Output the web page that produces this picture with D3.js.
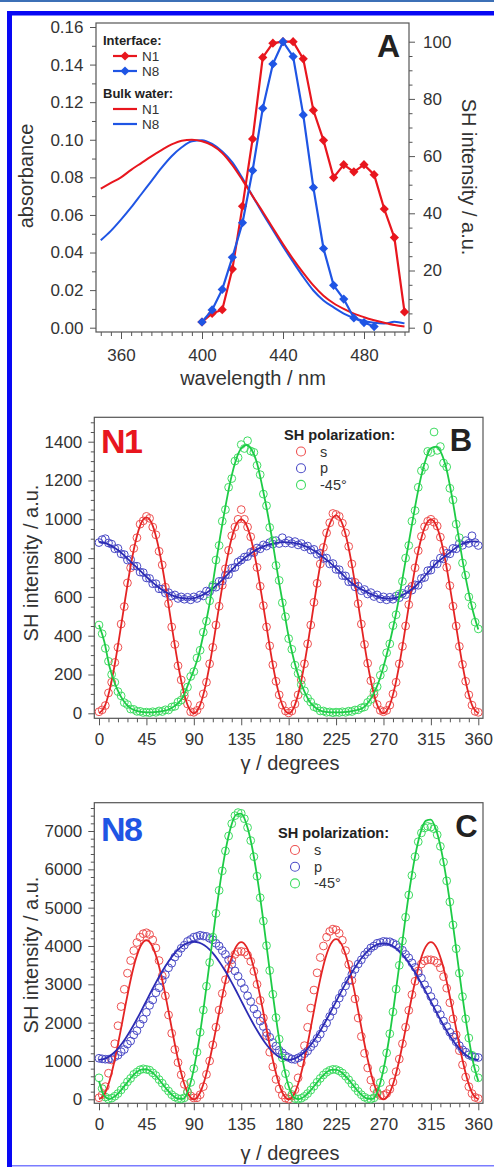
<!DOCTYPE html>
<html>
<head>
<meta charset="utf-8">
<script src="https://cdn.jsdelivr.net/npm/d3@7"></script>
<style>
  body { margin: 0; background: #fff; }
  svg { display: block; }
</style>
</head>
<body>
<svg id="fig" width="494" height="1167"></svg>
<script>
// -------------------------------------------------------------------------- //
//                                   DATA                                     //
// -------------------------------------------------------------------------- //

// panel A : bulk absorbance (left axis) and interface SH spectra (right axis)
var wlBulk = [350,355,360,365,370,375,380,385,390,395,400,405,410,415,420,425,
              430,435,440,445,450,455,460,465,470,475,480,485,490,495,500];
var absN1 = [0.0740,0.0770,0.0800,0.0840,0.0876,0.0912,0.0945,0.0975,0.0995,0.1000,
             0.0992,0.0970,0.0930,0.0865,0.0785,0.0700,0.0617,0.0530,0.0445,0.0365,
             0.0292,0.0225,0.0170,0.0130,0.0100,0.0075,0.0056,0.0040,0.0026,0.0014,0.0006];
var absN8 = [0.0465,0.0515,0.0575,0.0640,0.0710,0.0780,0.0850,0.0912,0.0960,0.0992,
             0.0998,0.0978,0.0938,0.0880,0.0795,0.0700,0.0608,0.0520,0.0432,0.0350,
             0.0270,0.0198,0.0145,0.0108,0.0075,0.0052,0.0036,0.0026,0.0022,0.0032,0.0023];
var wlSH = [400,405,410,415,420,425,430,435,440,445,450,455,460,465,470,475,480,485,490,495,500];
var shN1 = [2.0,5.0,6.3,20.5,42.5,66.0,94.5,99.5,100,100,94.0,76.0,65.5,52.5,57.0,54.5,57.0,53.5,41.5,31.5,5.5];
var shN8 = [2.0,6.2,13.4,24.6,36.7,55.0,76.7,92.2,100,94.8,74.4,49.0,27.7,14.8,10.0,3.4,1.8,0.4];
var wlTicks  = [360, 400, 440, 480];
var absTicks = [0, 0.02, 0.04, 0.06, 0.08, 0.10, 0.12, 0.14, 0.16];
var shTicks  = [0, 20, 40, 60, 80, 100];

// panels B and C : polarization scans
var gammaFit = [0,5,10,15,20,25,30,35,40,
                45,50,55,60,65,70,75,80,85,
                90,95,100,105,110,115,120,125,130,
                135,140,145,150,155,160,165,170,175,
                180,185,190,195,200,205,210,215,220,
                225,230,235,240,245,250,255,260,265,
                270,275,280,285,290,295,300,305,310,
                315,320,325,330,335,340,345,350,355,
                360];
var gammaPts = [0,3,6,9,12,15,18,21,24,27,30,33,36,39,42,
                45,48,51,54,57,60,63,66,69,72,75,78,81,84,87,
                90,93,96,99,102,105,108,111,114,117,120,123,126,129,132,
                135,138,141,144,147,150,153,156,159,162,165,168,171,174,177,
                180,183,186,189,192,195,198,201,204,207,210,213,216,219,222,
                225,228,231,234,237,240,243,246,249,252,255,258,261,264,267,
                270,273,276,279,282,285,288,291,294,297,300,303,306,309,312,
                315,318,321,324,327,330,333,336,339,342,345,348,351,354,357,
                360];
var gammaTicks = [0, 45, 90, 135, 180, 225, 270, 315, 360];
var polLabels  = ["s", "p", "-45\u00b0"];

// N1
var n1FitS = [0,30,118,253,417,593,758,892,980,
              1010,980,892,758,593,417,253,118,30,
              0,30,117,250,413,587,750,883,970,
              1000,970,883,750,587,413,250,117,30,
              0,31,119,255,421,599,765,901,989,
              1020,989,901,765,599,421,255,119,31,
              0,30,117,250,413,587,750,883,970,
              1000,970,883,750,587,413,250,117,30,
              0];
var n1FitP = [885,878,868,852,833,808,782,756,730,
              704,679,656,636,620,607,598,593,591,
              593,602,615,632,653,677,704,733,761,
              786,808,828,845,858,868,875,880,882,
              881,878,873,863,851,835,816,795,773,
              748,722,695,670,651,636,622,610,600,
              593,591,593,601,615,632,653,681,713,
              743,773,795,816,838,859,874,883,886,
              885];
var n1FitM = [455,370,240,155,94,52,26,14,7,
              5,5,7,11,17,31,52,86,155,
              223,309,430,567,739,911,1065,1203,1306,
              1366,1383,1357,1289,1168,1031,876,704,550,
              395,275,180,112,60,31,14,7,5,
              5,5,7,11,17,26,52,94,155,
              240,344,464,601,756,911,1065,1203,1306,
              1366,1375,1340,1254,1117,955,790,645,525,
              432];
var n1PtsS = [8,18,40,105,160,262,340,460,550,672,750,850,905,975,992,
              1015,1005,960,920,835,765,650,565,445,355,245,172,90,48,8,
              5,15,40,100,160,255,340,455,552,660,745,840,915,960,1000,
              1050,1000,960,910,838,752,655,555,445,348,250,165,95,42,12,
              2,12,48,95,172,255,358,455,572,670,770,855,930,982,1030,
              1025,1015,980,930,860,770,675,565,460,355,258,168,98,45,15,
              8,15,42,100,160,255,345,450,560,655,750,838,912,962,990,
              1000,985,965,908,840,752,658,552,450,345,252,165,95,42,10,
              5];
var n1PtsP = [880,895,900,878,872,848,850,822,818,790,792,760,758,728,725,
              698,695,668,668,642,640,620,622,605,610,592,600,588,598,585,
              600,592,610,605,630,628,652,650,680,682,712,715,748,752,780,
              790,805,808,830,828,852,848,868,862,880,872,890,875,905,878,
              890,875,885,868,875,858,862,842,845,820,825,798,800,770,772,
              742,740,710,708,678,678,652,655,632,638,615,622,602,610,590,
              600,585,598,588,604,596,618,612,638,635,662,660,695,700,735,
              738,770,770,800,796,825,822,850,848,875,866,890,876,915,880,
              865];
var n1PtsM = [455,410,335,268,200,160,112,90,55,45,22,20,10,10,4,
              6,3,8,5,12,9,18,17,32,36,58,68,108,135,190,
              215,285,325,418,475,580,660,790,865,990,1050,1165,1210,1300,1318,
              1385,1365,1405,1352,1345,1278,1230,1130,1070,958,890,762,685,570,498,
              385,330,248,205,148,116,78,58,34,27,12,12,5,7,3,
              6,4,8,5,11,9,17,18,28,33,56,72,112,137,196,
              232,312,358,452,508,615,680,800,865,990,1045,1165,1250,1270,1350,
              1345,1450,1355,1375,1290,1270,1160,1100,975,905,775,712,600,555,470,
              435];
var n1Ticks = [0, 200, 400, 600, 800, 1000, 1200, 1400];

// N8
var n8FitS = [0,125,486,1038,1714,2436,3113,3664,4026,
              4150,4026,3664,3113,2436,1714,1038,486,125,
              0,124,480,1025,1693,2407,3075,3620,3977,
              4100,3977,3620,3075,2407,1693,1025,480,124,
              0,126,489,1045,1726,2454,3135,3691,4055,
              4180,4055,3691,3135,2454,1726,1045,489,126,
              0,124,480,1025,1693,2407,3075,3620,3977,
              4100,3977,3620,3075,2407,1693,1025,480,124,
              0];
var n8FitP = [1030,1053,1123,1236,1390,1580,1800,2043,2302,
              2570,2838,3097,3340,3559,3750,3904,4018,4087,
              4110,4087,4018,3904,3750,3559,3340,3097,2838,
              2570,2302,2043,1800,1580,1390,1236,1123,1053,
              1030,1053,1122,1234,1386,1573,1790,2030,2286,
              2550,2814,3070,3310,3526,3714,3866,3979,4047,
              4070,4047,3979,3866,3714,3526,3310,3070,2814,
              2550,2286,2030,1790,1573,1386,1234,1122,1053,
              1030];
var n8FitM = [480,90,6,75,208,378,550,692,776,
              784,715,582,412,239,98,14,14,258,
              793,1562,2522,3574,4645,5642,6475,7090,7425,
              7455,7178,6623,5822,4856,3792,2735,1748,925,
              345,38,6,74,206,373,543,684,766,
              774,706,574,407,236,96,14,14,253,
              776,1528,2468,3497,4546,5521,6336,6939,7266,
              7296,7024,6481,5697,4752,3711,2676,1750,980,
              480];
var n8PtsS = [40,120,330,680,1026,1450,1920,2420,2870,3290,3620,3880,4090,4230,4320,
              4345,4300,4160,3950,3620,3220,2700,2200,1722,1300,960,640,390,200,90,
              35,40,120,330,650,1000,1420,1880,2330,2760,3120,3420,3640,3780,3850,
              3860,3840,3760,3600,3340,3000,2580,2120,1660,1230,850,520,270,110,30,
              5,80,250,560,950,1400,1880,2380,2850,3300,3700,4000,4230,4380,4440,
              4420,4330,4150,3880,3520,3100,2620,2120,1640,1200,820,500,280,150,100,
              110,150,260,450,720,1050,1450,1880,2320,2730,3080,3350,3530,3610,3640,
              3640,3620,3560,3430,3200,2900,2520,2100,1680,1270,900,580,330,150,50,
              20];
var n8PtsP = [1070,1055,1045,1044,1065,1110,1150,1240,1300,1440,1520,1680,1790,1960,2090,
              2270,2450,2590,2780,2910,3110,3250,3430,3550,3710,3810,3940,4020,4120,4170,
              4230,4250,4280,4260,4250,4200,4160,4070,4000,3880,3780,3640,3520,3350,3210,
              3040,2890,2700,2550,2360,2220,2040,1900,1740,1620,1480,1390,1280,1210,1130,
              1090,1050,1040,1080,1120,1190,1260,1370,1460,1590,1700,1860,1990,2160,2300,
              2470,2640,2780,2960,3100,3260,3390,3530,3640,3770,3850,3950,4000,4070,4090,
              4120,4110,4110,4070,4030,3960,3890,3780,3690,3560,3440,3290,3160,2990,2850,
              2680,2530,2350,2210,2040,1900,1750,1630,1500,1400,1290,1230,1160,1120,1100,
              1090];
var n8PtsM = [560,280,60,8,30,80,150,245,340,455,545,650,710,770,795,
              780,760,690,620,515,420,305,215,120,60,18,10,40,190,440,
              800,1230,1750,2330,2950,3570,4230,4850,5450,5960,6480,6870,7190,7400,7480,
              7460,7320,7090,6750,6330,5820,5260,4650,4010,3360,2740,2130,1570,1080,670,
              350,125,20,5,28,75,150,240,340,445,545,635,705,755,780,
              775,740,685,605,510,405,305,205,120,55,15,5,40,185,435,
              775,1210,1710,2280,2875,3495,4130,4750,5330,5840,6330,6720,6950,7080,7120,
              7100,7060,6900,6600,6190,5700,5150,4550,3930,3290,2680,2100,1600,1150,800,
              560];
var n8Ticks = [0, 1000, 2000, 3000, 4000, 5000, 6000, 7000];

// -------------------------------------------------------------------------- //
//                                 DRAWING                                    //
// -------------------------------------------------------------------------- //

var FONT = "'Liberation Sans', Arial, Helvetica, sans-serif";
var RED = "#e8161e", BLUE = "#1f55e4";
var polCirc = ["#ee5050", "#4a4ac6", "#3fdc62"];
var polLine = ["#e42424", "#2c2cb4", "#1ecb46"];

var svg = d3.select("#fig").attr("font-family", FONT);

// page frame
svg.append("rect").attr("x", 0).attr("y", 0).attr("width", 494).attr("height", 2).attr("fill", "#3c70b6");
svg.append("rect").attr("x", 7).attr("y", 11).attr("width", 487).attr("height", 4.5).attr("fill", "#0808f4");
svg.append("rect").attr("x", 7).attr("y", 11).attr("width", 5).attr("height", 1156).attr("fill", "#0808f4");
svg.append("rect").attr("x", 12).attr("y", 1165).attr("width", 482).attr("height", 1.5).attr("fill", "#7a7cff");

// one set of ticks (major with labels or minor without)
function ticks(axisFn, scale, vals, size, pad, fmt, tx, ty) {
    var a = axisFn(scale).tickValues(vals).tickSize(size).tickPadding(pad)
        .tickFormat(fmt || function () { return ""; });
    var g = svg.append("g")
        .attr("transform", "translate(" + tx + "," + ty + ")")
        .call(a)
        .attr("font-family", FONT)
        .attr("font-size", 17);
    g.select(".domain").remove();
    g.selectAll("line").attr("stroke", "#555").attr("stroke-width", 1);
    g.selectAll("text").attr("fill", "#333");
    return g;
}

function box(x0, y0, x1, y1) {
    svg.append("rect")
        .attr("x", x0).attr("y", y0)
        .attr("width", x1 - x0).attr("height", y1 - y0)
        .attr("fill", "none").attr("stroke", "#555").attr("stroke-width", 1.2);
}

function label(txt, x, y, size, opts) {
    opts = opts || {};
    var t = svg.append("text")
        .text(txt)
        .attr("x", x).attr("y", y)
        .attr("font-size", size)
        .attr("fill", opts.fill || "#333")
        .attr("font-weight", opts.bold ? "bold" : "normal")
        .attr("text-anchor", opts.anchor || "start");
    if (opts.spacing) t.attr("letter-spacing", opts.spacing);
    if (opts.rotate) t.attr("transform", "rotate(" + opts.rotate + "," + x + "," + y + ")");
    return t;
}

function diamond(r) {
    return "M0," + (-r) + "L" + r + ",0L0," + r + "L" + (-r) + ",0Z";
}

// ------------------------------ PANEL A ---------------------------------- //

var xA  = d3.scaleLinear().domain([360, 480]).range([121, 364]);
var yA  = d3.scaleLinear().domain([0, 0.16]).range([327.7, 27]);
var yA2 = d3.scaleLinear().domain([0, 100]).range([327.7, 41.7]);

box(96, 23, 409, 332);

ticks(d3.axisLeft, yA, absTicks, 6, 6.5, d3.format(".2f"), 96, 0);
ticks(d3.axisLeft, yA, d3.range(0.01, 0.16, 0.02), 4, 3, null, 96, 0);
ticks(d3.axisRight, yA2, shTicks, 6, 8, d3.format("d"), 409, 0);
ticks(d3.axisRight, yA2, d3.range(0, 101, 5).filter(function (v) { return v % 20; }), 3.5, 3, null, 409, 0);
ticks(d3.axisBottom, xA, wlTicks, 7, 10, d3.format("d"), 0, 332);
ticks(d3.axisBottom, xA, d3.range(350, 501, 5).filter(function (v) { return wlTicks.indexOf(v) < 0; }), 4, 3, null, 0, 332);

var bulkLine = function (vals) {
    return d3.line()
        .x(function (d, i) { return xA(wlBulk[i]); })
        .y(function (d) { return yA(d); })
        .curve(d3.curveMonotoneX)(vals);
};
svg.append("path").attr("d", bulkLine(absN8)).attr("fill", "none").attr("stroke", BLUE).attr("stroke-width", 2);
svg.append("path").attr("d", bulkLine(absN1)).attr("fill", "none").attr("stroke", RED).attr("stroke-width", 2);

function shTrace(vals, col) {
    var line = d3.line()
        .x(function (d, i) { return xA(wlSH[i]); })
        .y(function (d) { return yA2(d); });
    svg.append("path").attr("d", line(vals)).attr("fill", "none").attr("stroke", col).attr("stroke-width", 2.2);
    svg.append("g").selectAll("path")
        .data(vals)
        .enter().append("path")
        .attr("d", diamond(4.6))
        .attr("transform", function (d, i) { return "translate(" + xA(wlSH[i]) + "," + yA2(d) + ")"; })
        .attr("fill", col);
}
shTrace(shN1, RED);
shTrace(shN8, BLUE);

label("absorbance", 33, 176, 20, { anchor: "middle", rotate: -90 });
label("SH intensity / a.u.", 462, 177, 20, { anchor: "middle", rotate: 90 });
label("wavelength / nm", 253, 385, 20, { anchor: "middle" });
label("A", 388.5, 57, 32, { anchor: "middle", bold: true, fill: "#222" });

// legend A
label("Interface:", 103, 45, 13, { bold: true, fill: "#222" });
label("Bulk water:", 103, 98, 13, { bold: true, fill: "#222" });
[[56, RED, "N1", true], [71, BLUE, "N8", true], [109, RED, "N1", false], [124, BLUE, "N8", false]]
    .forEach(function (r) {
        svg.append("line").attr("x1", 113).attr("x2", 137).attr("y1", r[0]).attr("y2", r[0])
            .attr("stroke", r[1]).attr("stroke-width", 2.2);
        if (r[3]) svg.append("path").attr("d", diamond(4.6))
            .attr("transform", "translate(125," + r[0] + ")").attr("fill", r[1]);
        label(r[2], 142, r[0] + 4.8, 13.5);
    });

// ---------------------------- PANELS B, C -------------------------------- //

function polPanel(p) {
    var x = d3.scaleLinear().domain([0, 360]).range([99, 478.3]);
    var y = d3.scaleLinear().domain([0, p.yTicks[p.yTicks.length - 1]]).range([p.y0, p.yTop]);

    box(94.3, p.boxTop, 483, p.boxBot);

    ticks(d3.axisLeft, y, p.yTicks, 6, 6, d3.format("d"), 94.3, 0);
    ticks(d3.axisLeft, y, d3.range(0, p.yMax + 1, p.yMinor).filter(function (v) { return p.yTicks.indexOf(v) < 0; }),
          3.5, 3, null, 94.3, 0);
    ticks(d3.axisBottom, x, gammaTicks, 7, 8, d3.format("d"), 0, p.boxBot);
    ticks(d3.axisBottom, x, d3.range(9, 360, 9).filter(function (v) { return v % 45; }), 4, 3, null, 0, p.boxBot);

    p.series.forEach(function (s, k) {
        svg.append("g").selectAll("circle")
            .data(s.pts)
            .enter().append("circle")
            .attr("cx", function (d, i) { return x(gammaPts[i]); })
            .attr("cy", function (d) { return y(d); })
            .attr("r", 3.9)
            .attr("fill", "none")
            .attr("stroke", polCirc[k])
            .attr("stroke-width", 1);
    });
    p.series.forEach(function (s, k) {
        var line = d3.line()
            .x(function (d, i) { return x(gammaFit[i]); })
            .y(function (d) { return y(d); })
            .curve(d3.curveMonotoneX);
        svg.append("path").attr("d", line(s.fit))
            .attr("fill", "none").attr("stroke", polLine[k]).attr("stroke-width", 1.8);
    });

    label("SH intensity / a.u.", 38, p.titleY, 20, { anchor: "middle", rotate: -90 });
    label("\u03b3 / degrees", 290, p.xTitleY, 20, { anchor: "middle" });
    label(p.name, 101, p.nameY, 34, { bold: true, fill: p.nameCol, spacing: -1.5 });
    label(p.letter, p.letterX, p.letterY, 31, { bold: true, anchor: "middle", fill: "#222" });

    // legend
    label("SH polarization:", p.legX, p.legY, 14.6, { bold: true, fill: "#222" });
    polLabels.forEach(function (t, k) {
        var yy = p.legY + 12 + k * 16.7;
        svg.append("circle").attr("cx", p.legX + 17).attr("cy", yy).attr("r", 4.5)
            .attr("fill", "none").attr("stroke", polCirc[k]).attr("stroke-width", 1.1);
        label(t, p.legX + 36, yy + 5, 14.5);
    });
}

polPanel({
    yTicks: n1Ticks, yMax: 1500, yMinor: 50, y0: 713.3, yTop: 441.7,
    boxTop: 417.3, boxBot: 718.3, titleY: 563, xTitleY: 770,
    name: "N1", nameCol: RED, nameY: 453, letter: "B", letterX: 461, letterY: 450.5,
    legX: 284, legY: 439.5,
    series: [{ pts: n1PtsS, fit: n1FitS }, { pts: n1PtsP, fit: n1FitP }, { pts: n1PtsM, fit: n1FitM }]
});

polPanel({
    yTicks: n8Ticks, yMax: 7600, yMinor: 200, y0: 1099.3, yTop: 831,
    boxTop: 802.7, boxBot: 1103.3, titleY: 955, xTitleY: 1160,
    name: "N8", nameCol: BLUE, nameY: 841, letter: "C", letterX: 466.5, letterY: 837,
    legX: 278, legY: 838,
    series: [{ pts: n8PtsS, fit: n8FitS }, { pts: n8PtsP, fit: n8FitP }, { pts: n8PtsM, fit: n8FitM }]
});
</script>
</body>
</html>
